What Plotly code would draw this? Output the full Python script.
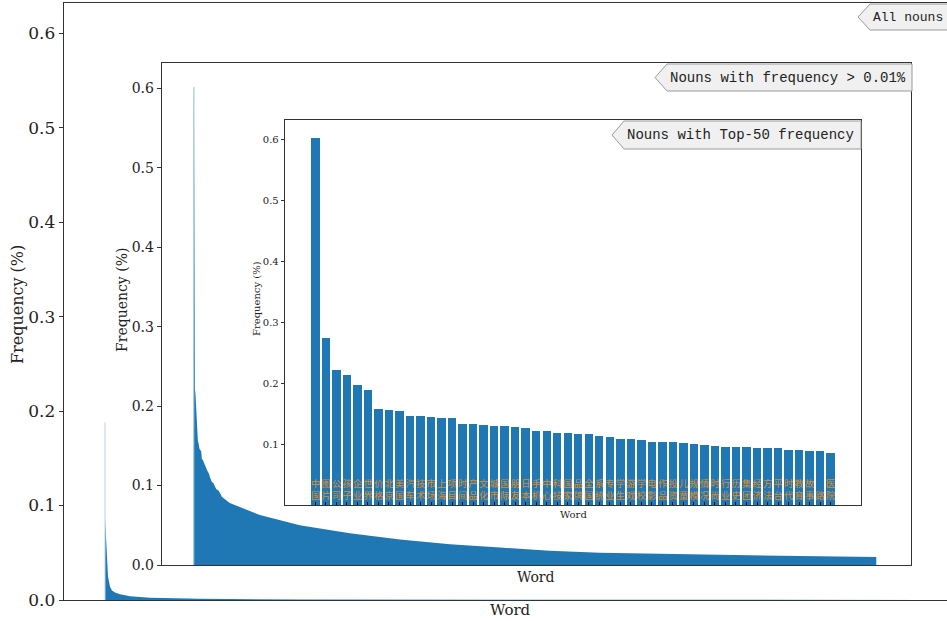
import plotly.graph_objects as go

W, H = 947, 621
FIG_H = 631  # compensates the vertical squeeze observed in the page photo

# ---------------- data ----------------
top50_words = ["中国", "图片", "公司", "孩子", "企业", "世界", "价格", "北京", "美国", "汽车",
               "技术", "市场", "上海", "项目", "时间", "产品", "文化", "城市", "国际", "朋友",
               "日本", "手机", "中心", "科技", "国家", "品牌", "全国", "系统", "专业", "学生",
               "游戏", "学校", "电影", "作品", "投资", "儿童", "规模", "情况", "时尚", "行业",
               "历史", "集团", "经济", "方法", "平台", "时代", "教育", "故事", "路", "医院"]
top50_freq = [0.602, 0.274, 0.221, 0.213, 0.197, 0.189, 0.157, 0.156, 0.154, 0.146,
              0.146, 0.145, 0.143, 0.143, 0.133, 0.133, 0.132, 0.130, 0.129, 0.128,
              0.126, 0.122, 0.121, 0.119, 0.118, 0.117, 0.116, 0.114, 0.111, 0.109,
              0.108, 0.106, 0.104, 0.104, 0.104, 0.102, 0.100, 0.099, 0.097, 0.096,
              0.095, 0.095, 0.094, 0.094, 0.093, 0.091, 0.090, 0.089, 0.088, 0.086]

# nouns with frequency > 0.01% : ranks beyond the top 50
mid_tail_rank = [63, 116, 186, 274, 362, 450, 538, 625, 713, 889, 1065, 1199]
mid_tail_freq = [0.078, 0.063, 0.050, 0.040, 0.032, 0.026, 0.022, 0.018, 0.0155, 0.0130, 0.0112, 0.0100]

# all nouns
all_rank = [0, 244, 488, 732, 1220, 1708, 2440, 3660, 6100, 10980, 23180, 47580, 96380, 145180, 200000]
all_freq = [0.087, 0.060, 0.035, 0.025, 0.014, 0.010, 0.008, 0.006, 0.004, 0.0025, 0.0012, 0.0006, 0.0003, 0.0002, 0.0001]
all_spike_rank = [0, 0]
all_spike_freq = [0, 0.188]

y_tickvals = [0.0, 0.1, 0.2, 0.3, 0.4, 0.5, 0.6]
y_ticktext = ["0.0", "0.1", "0.2", "0.3", "0.4", "0.5", "0.6"]

# ---------------- style ----------------
BLUE = "#1f77b4"
LIGHT = "#b9d3ea"
ORANGE = "#e08d1c"
AX = "#333333"
FONT = "DejaVu Serif"
MONO = "Liberation Mono"


def px(x):
    return x / W


def py(y):
    return 1 - y / H


fig = go.Figure()

# outer: all nouns
fig.add_trace(go.Scatter(x=all_rank, y=all_freq, mode="lines", line=dict(width=0, color=BLUE),
                         fill="tozeroy", fillcolor=BLUE, xaxis="x", yaxis="y", hoverinfo="skip"))
fig.add_trace(go.Scatter(x=all_spike_rank, y=all_spike_freq, mode="lines", line=dict(width=1, color=LIGHT),
                         xaxis="x", yaxis="y", hoverinfo="skip"))

# middle: frequency > 0.01%
mid_rank = list(range(len(top50_freq))) + mid_tail_rank
mid_freq = top50_freq + mid_tail_freq
fig.add_trace(go.Scatter(x=mid_rank, y=mid_freq, mode="lines", line=dict(width=0, color=BLUE),
                         fill="tozeroy", fillcolor=BLUE, xaxis="x2", yaxis="y2", hoverinfo="skip"))
fig.add_trace(go.Scatter(x=[0, 0], y=[0, top50_freq[0]], mode="lines", line=dict(width=1, color="#8fbbe0"),
                         xaxis="x2", yaxis="y2", hoverinfo="skip"))

# inner: top 50
fig.add_trace(go.Bar(x=list(range(len(top50_freq))), y=top50_freq, width=0.8, marker=dict(color=BLUE, line=dict(width=0)),
                     xaxis="x3", yaxis="y3", hoverinfo="skip"))

common_line = dict(showline=True, linecolor=AX, linewidth=1.3, showgrid=False, zeroline=False)

fig.update_layout(
    width=W, height=FIG_H, autosize=False,
    margin=dict(l=0, r=0, t=0, b=0),
    paper_bgcolor="white", plot_bgcolor="white",
    showlegend=False, bargap=0,
    xaxis=dict(domain=[px(64), 1], range=[-10000, 205366], mirror=True, showticklabels=False, ticks="",
               anchor="y", **common_line),
    yaxis=dict(domain=[py(600), py(3)], range=[0, 0.632], tickvals=y_tickvals, ticktext=y_ticktext,
               ticks="outside", ticklen=4, tickcolor=AX, tickfont=dict(family=FONT, size=17, color="#222"),
               anchor="x", **common_line),
    xaxis2=dict(domain=[px(162), px(911)], range=[-56, 1260], mirror=True, showticklabels=False, ticks="",
                anchor="y2", **common_line),
    yaxis2=dict(domain=[py(565), py(63)], range=[0, 0.632], tickvals=y_tickvals, ticktext=y_ticktext, mirror=True,
                ticks="outside", ticklen=4, tickcolor=AX, tickfont=dict(family=FONT, size=14, color="#222"),
                anchor="x2", **common_line),
    xaxis3=dict(domain=[px(285), px(861)], range=[-2.89, 51.89], mirror=True,
                tickvals=list(range(len(top50_words))), ticktext=["<br>".join(list(w)) for w in top50_words],
                ticklabelposition="inside", ticks="inside", ticklen=3, tickcolor="#111",
                tickfont=dict(family="Noto Sans CJK SC", size=9, color=ORANGE), tickangle=0,
                anchor="y3", **common_line),
    yaxis3=dict(domain=[py(505), py(120)], range=[0, 0.632], tickvals=y_tickvals, ticktext=y_ticktext, mirror=True,
                ticks="outside", ticklen=3, tickcolor=AX, tickfont=dict(family=FONT, size=10, color="#222"),
                anchor="x3", **common_line),
)

annotations = [
    dict(text="Frequency (%)", x=px(17), y=py(305), textangle=-90, font=dict(family=FONT, size=16, color="#222")),
    dict(text="Word", x=px(510), y=py(610), font=dict(family=FONT, size=15, color="#222")),
    dict(text="Frequency (%)", x=px(122), y=py(300), textangle=-90, font=dict(family=FONT, size=14, color="#222")),
    dict(text="Word", x=px(536), y=py(577), font=dict(family=FONT, size=14, color="#222")),
    dict(text="Frequency (%)", x=px(256), y=py(298), textangle=-90, font=dict(family=FONT, size=10, color="#222")),
    dict(text="Word", x=px(573), y=py(514), font=dict(family=FONT, size=10, color="#222")),
]
for a in annotations:
    a.update(xref="paper", yref="paper", showarrow=False, xanchor="center", yanchor="middle")

# larrow label boxes
boxes = [
    ("All nouns", 858, 870, 970, 4, 30, 13),
    ("Nouns with frequency > 0.01%", 655, 667, 912, 64, 91, 14),
    ("Nouns with Top-50 frequency", 612, 624, 861, 121, 149, 14),
]
shapes = []
for text, tip, x0, x1, y0, y1, fs in boxes:
    ym = (y0 + y1) / 2
    path = "M {} {} L {} {} L {} {} L {} {} L {} {} Z".format(
        px(tip), py(ym), px(x0), py(y0), px(x1), py(y0), px(x1), py(y1), px(x0), py(y1))
    shapes.append(dict(type="path", path=path, xref="paper", yref="paper",
                       fillcolor="#f0f0f0", line=dict(color="#9a9a9a", width=1), layer="above"))
    annotations.append(dict(text=text, x=px(x0 + 1), y=py(ym), xref="paper", yref="paper", showarrow=False,
                            xanchor="left", yanchor="middle", font=dict(family=MONO, size=fs, color="#222")))

fig.update_layout(annotations=annotations, shapes=shapes)

post = ("document.documentElement.style.margin='0';document.body.style.margin='0';"
        "document.documentElement.style.overflow='hidden';document.body.style.overflow='hidden';"
        "var d=document.getElementById('{plot_id}');d.style.position='fixed';d.style.left='0px';d.style.top='0px';")

fig.write_html("out.html", config={"displayModeBar": False, "staticPlot": True}, post_script=post)
